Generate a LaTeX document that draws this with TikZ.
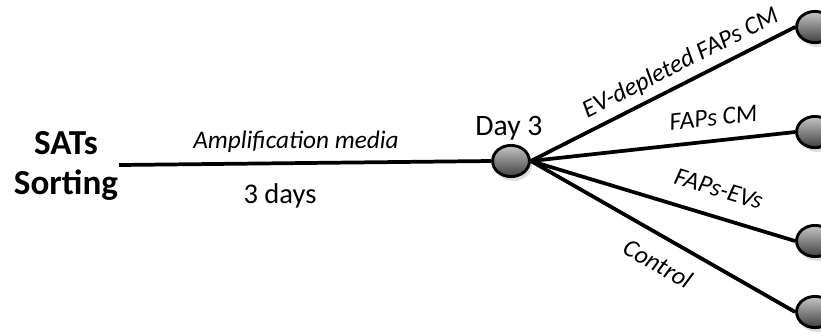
\documentclass[tikz,border=0pt]{standalone}
\usepackage{fontspec}
\setmainfont{Carlito}
\usetikzlibrary{positioning,shadows,shapes.geometric}

\begin{document}
\begin{tikzpicture}[
        x=0.016cm, y=-0.016cm,
        dot/.style={ellipse, draw=black, line width=1.3pt, inner sep=0pt,
            minimum width=5.9mm, minimum height=5.0mm, top color=gray!45, bottom color=black!75,
            drop shadow={opacity=0.25, shadow xshift=0.4mm, shadow yshift=-0.7mm}},
        branch/.style={line width=1.7pt},
        plain/.style={font=\fontsize{13}{15}\selectfont, anchor=base, inner sep=0pt},
        lbl/.style={font=\fontsize{11.5}{13}\selectfont\itshape, sloped, inner sep=3pt}
    ]
    \useasboundingbox (0,0) rectangle (821,333);

    \node[font=\fontsize{16}{18.2}\selectfont\bfseries, align=center] (sats) at (66,166) {SATs\\Sorting};
    \coordinate (start) at (119,165);
    \node[dot] (day3) at (511,161) {};
    \node[plain, font=\fontsize{13.5}{15}\selectfont] (daylbl) at (509,135) {Day 3};

    \node[dot] (n1) at (815,27) {};
    \node[dot] (n2) at (815,132) {};
    \node[dot] (n3) at (815,241) {};
    \node[dot] (n4) at (815,312) {};

    \draw[branch] (start) -- (day3.west);
    \node[plain, font=\fontsize{11.5}{13}\selectfont\itshape] (medium) at (296,148) {Amplification media};
    \node[plain] (days) at (280,203) {3 days};

    \draw[branch] (day3.east) -- (n1.west) node[lbl, pos=0.6, above] {EV-depleted FAPs CM};
    \draw[branch] (day3.east) -- (n2.west) node[lbl, pos=0.7, above=3pt] {FAPs CM};
    \draw[branch] (day3.east) -- (n3.west) node[lbl, pos=0.68, above=5pt] {FAPs-EVs};
    \draw[branch] (day3.east) -- (n4.west) node[lbl, pos=0.53, below=4pt] {Control};
\end{tikzpicture}
\end{document}
